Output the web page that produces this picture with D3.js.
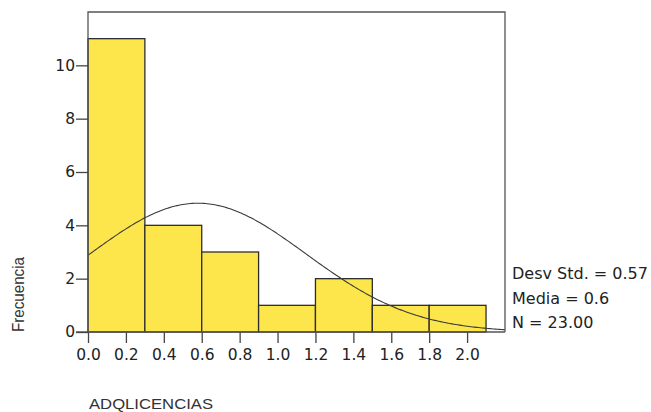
<!DOCTYPE html>
<html lang="es">
<head>
<meta charset="UTF-8">
<title>Histograma ADQLICENCIAS</title>
<script src="https://cdn.jsdelivr.net/npm/d3@7"></script>
<style>
  body { margin: 0; background: #fff; }
  .tick text { font-family: "DejaVu Sans", Verdana, sans-serif; font-size: 15.5px; fill: #222; }
</style>
</head>
<body>
<div id="chart"></div>
<script>
// bins of width 0.3 and their counts
const binStarts = [0.0, 0.3, 0.6, 0.9, 1.2, 1.5, 1.8];
const counts = [11, 4, 3, 1, 2, 1, 1];
const binWidth = 0.3;
const xTicks = [0.0, 0.2, 0.4, 0.6, 0.8, 1.0, 1.2, 1.4, 1.6, 1.8, 2.0];
const yTicks = [0, 2, 4, 6, 8, 10];
const statLines = ["Desv Std. = 0.57", "Media = 0.6", "N = 23.00"];
const curveMean = 0.58, curveSd = 0.57, curveN = 23;

const W = 651, H = 412;
const pad = {left: 88, right: 146, top: 12, bottom: 80};

const svg = d3.select('#chart').append('svg')
    .attr('width', W).attr('height', H);

const x = d3.scaleLinear().domain([0, 2.2]).range([pad.left, W - pad.right]);
const y = d3.scaleLinear().domain([0, 12]).range([H - pad.bottom, pad.top]);

// bars
svg.selectAll('rect.bar')
    .data(binStarts)
    .enter()
    .append('rect')
    .attr('class', 'bar')
    .attr('x', d => x(d))
    .attr('y', (d, i) => y(counts[i]))
    .attr('width', d => x(d + binWidth) - x(d))
    .attr('height', (d, i) => y(0) - y(counts[i]))
    .attr('fill', '#fce64b')
    .attr('stroke', '#2e2e2e')
    .attr('stroke-width', 1.3);

// normal curve
const curvePts = d3.range(0, 2.2001, 0.01);
const dens = v => curveN * binWidth / (curveSd * Math.sqrt(2 * Math.PI)) *
    Math.exp(-0.5 * Math.pow((v - curveMean) / curveSd, 2));
svg.append('path')
    .datum(curvePts)
    .attr('fill', 'none')
    .attr('stroke', '#3a3a3a')
    .attr('stroke-width', 1.1)
    .attr('d', d3.line().x(d => x(d)).y(d => y(dens(d))));

// frame (left, top, right)
svg.append('path')
    .attr('d', 'M' + x(0) + ',' + y(0) + 'V' + y(12) + 'H' + x(2.2) + 'V' + y(0))
    .attr('fill', 'none')
    .attr('stroke', '#555')
    .attr('stroke-width', 1.3);

// axes
const xAxis = svg.append('g')
    .attr('transform', 'translate(0,' + y(0) + ')')
    .call(d3.axisBottom(x).tickValues(xTicks).tickFormat(d3.format('.1f')).tickSize(11).tickPadding(6));
const yAxis = svg.append('g')
    .attr('transform', 'translate(' + x(0) + ',0)')
    .call(d3.axisLeft(y).tickValues(yTicks).tickSize(12).tickPadding(1));
[xAxis, yAxis].forEach(g => {
    g.select('.domain').attr('d', null);
    g.selectAll('.tick line').attr('stroke', '#444').attr('stroke-width', 1.3);
});
xAxis.append('line')
    .attr('x1', x(0)).attr('x2', x(2.2))
    .attr('stroke', '#555').attr('stroke-width', 1.3);
yAxis.append('line')
    .attr('y1', y(0)).attr('y2', y(0)).attr('x1', -12).attr('x2', 0)
    .attr('stroke', '#444').attr('stroke-width', 1.3);

// axis titles
svg.append('text')
    .text('ADQLICENCIAS')
    .attr('x', 89).attr('y', 409)
    .attr('textLength', 124)
    .attr('lengthAdjust', 'spacingAndGlyphs')
    .style('font-family', 'Liberation Sans, Arial, sans-serif')
    .style('font-size', '15.5px')
    .style('fill', '#333');
svg.append('text')
    .text('Frecuencia')
    .attr('transform', 'translate(24,294.5) rotate(-90)')
    .attr('text-anchor', 'middle')
    .attr('textLength', 75)
    .attr('lengthAdjust', 'spacingAndGlyphs')
    .style('font-family', 'Liberation Sans, Arial, sans-serif')
    .style('font-size', '17px')
    .style('fill', '#333');

// stats
svg.selectAll('text.stat')
    .data(statLines)
    .enter()
    .append('text')
    .attr('class', 'stat')
    .text(d => d)
    .attr('x', 512)
    .attr('y', (d, i) => 279 + i * 24.5)
    .style('font-family', 'DejaVu Sans, Verdana, sans-serif')
    .style('font-size', '16px')
    .style('fill', '#222');
</script>
</body>
</html>
